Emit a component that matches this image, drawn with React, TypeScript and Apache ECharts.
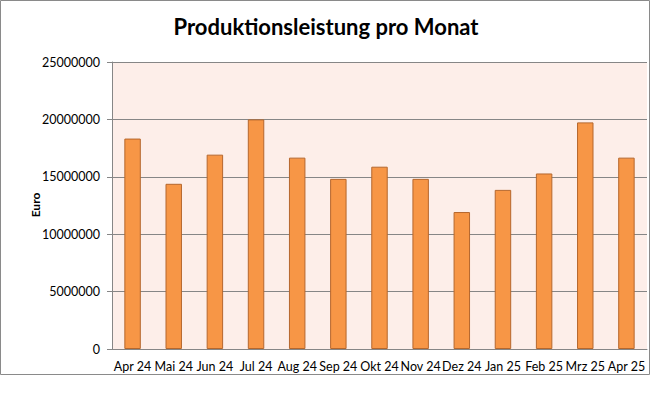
import React, { useEffect, useRef } from "react";
import * as echarts from "echarts";

const categories = ["Apr 24", "Mai 24", "Jun 24", "Jul 24", "Aug 24", "Sep 24", "Okt 24", "Nov 24", "Dez 24", "Jan 25", "Feb 25", "Mrz 25", "Apr 25"];
const production = [18330000, 14390000, 16930000, 20000000, 16670000, 14820000, 15880000, 14820000, 11930000, 13860000, 15290000, 19740000, 16670000];
const chartTitle = "Produktionsleistung pro Monat";
const yAxisName = "Euro";

export default function App() {
  const ref = useRef<HTMLDivElement>(null);
  useEffect(() => {
    if (!ref.current) return;
    const chart = echarts.init(ref.current, null, { renderer: "svg" });
    const font = "Lato, 'Open Sans', sans-serif";
    chart.setOption({
      animation: false,
      backgroundColor: "#ffffff",
      title: {
        text: chartTitle,
        left: "center",
        top: 10,
        textStyle: { fontFamily: font, fontWeight: "bold", fontSize: 22, color: "#000" },
      },
      graphic: [
        {
          type: "rect",
          shape: { x: 0.5, y: 0.5, width: 649, height: 374 },
          style: { fill: "none", stroke: "#8a8a8a", lineWidth: 1 },
          silent: true,
        },
        {
          type: "text",
          x: 35,
          y: 205,
          rotation: Math.PI / 2,
          style: {
            text: yAxisName,
            fontFamily: font,
            fontWeight: "bold",
            fontSize: 12,
            fill: "#000",
            align: "center",
            verticalAlign: "middle",
          },
          silent: true,
        },
      ],
      grid: {
        left: 112,
        right: 5,
        top: 62,
        bottom: 50,
        show: true,
        backgroundColor: "#FDEEE9",
        borderWidth: 0,
      },
      xAxis: {
        type: "category",
        data: categories,
        axisLine: { show: true, lineStyle: { color: "#868686", width: 1 } },
        axisTick: { show: false },
        axisLabel: { interval: 0, fontFamily: font, fontSize: 12.5, color: "#000", margin: 11 },
      },
      yAxis: {
        type: "value",
        min: 0,
        max: 25000000,
        interval: 5000000,
        axisLine: { show: true, lineStyle: { color: "#868686", width: 1 } },
        axisTick: { show: true, length: 5, lineStyle: { color: "#868686" } },
        axisLabel: {
          fontFamily: font,
          fontSize: 12.5,
          color: "#000",
          margin: 12,
          formatter: (v: number) => String(v),
        },
        splitLine: { show: true, lineStyle: { color: "#868686", width: 1 } },
      },
      series: [
        {
          type: "bar",
          data: production,
          barWidth: "40%",
          itemStyle: { color: "#F79646", borderColor: "#B5672D", borderWidth: 1 },
        },
      ],
    });
    return () => chart.dispose();
  }, []);
  return <div ref={ref} style={{ position: "fixed", left: 0, top: 0, width: 652, height: 399 }} />;
}
